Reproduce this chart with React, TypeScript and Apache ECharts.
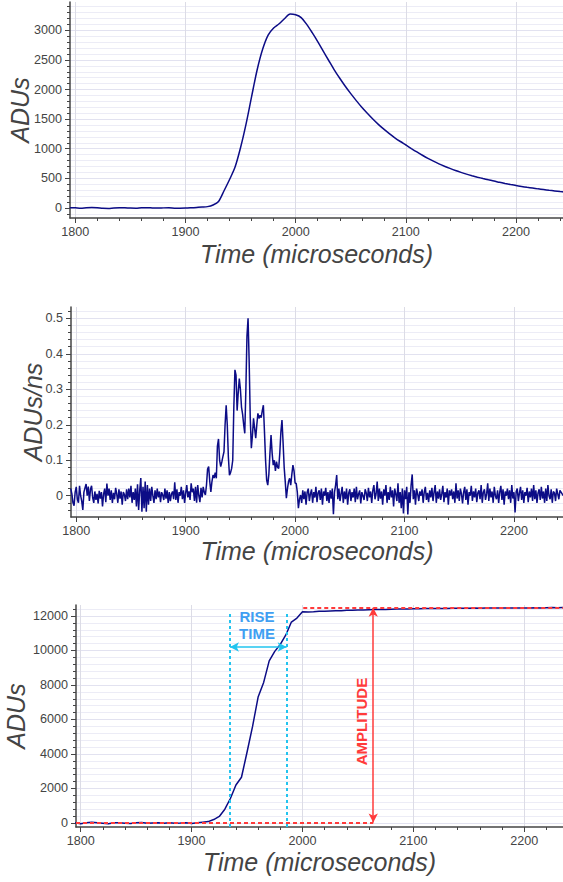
import React, { useEffect, useRef } from "react";
import * as echarts from "echarts";

// ---------------- DATA ----------------
// Top panel: ADUs vs time, sampled every 5 µs starting at 1795 µs
const PULSE_T0 = 1795;
const PULSE_DT = 5;
const pulseValues = [
  5, 2, -4, 3, 6, 2, -6, -8, 0, 4,
  2, -3, -5, 2, 3, 0, -2, 1, 2, -4,
  -5, -3, 2, 8, 14, 22, 50, 110, 290, 480,
  690, 1020, 1420, 1880, 2330, 2680, 2920, 3040, 3110, 3200,
  3275, 3262, 3215, 3100, 2960, 2810, 2650, 2490, 2332, 2190,
  2055, 1930, 1812, 1700, 1598, 1502, 1412, 1330, 1255, 1185,
  1122, 1063, 1003, 945, 890, 838, 790, 745, 705, 668,
  633, 601, 571, 544, 519, 496, 475, 455, 432, 412,
  394, 377, 362, 348, 335, 322, 310, 298, 287, 276,
  266,
];

// Middle panel: derivative ADUs/ns, sampled every 1 µs starting at 1795 µs
const DERIV_T0 = 1795;
const DERIV_DT = 1;
const derivValues = [
  0.02, 0.005, -0.02, -0.028, 0.01, 0.025, -0.01, -0.02, 0.028, 0.0,
  -0.015, -0.04, 0.01, 0.022, 0.033, 0.0, 0.026, -0.015, 0.018, 0.028,
  -0.005, -0.02, 0.012, -0.012, 0.005, -0.022, 0.014, -0.008, 0.01, -0.03,
  0.005, 0.02, -0.018, 0.034, 0.0, 0.02, -0.012, 0.015, -0.02, 0.008,
  -0.01, 0.022, 0.005, -0.02, 0.018, -0.008, 0.012, -0.025, 0.01, 0.003,
  -0.015, 0.018, -0.01, 0.02, -0.005, 0.028, -0.02, 0.01, -0.012, 0.02,
  -0.03, 0.032, -0.04, 0.015, 0.05, -0.045, 0.025, -0.035, 0.04, -0.045,
  0.03, -0.025, 0.02, -0.015, 0.025, 0.0, -0.02, 0.015, -0.01, 0.02,
  -0.005, 0.012, -0.018, 0.01, 0.002, -0.012, 0.02, -0.008, 0.015, -0.02,
  0.01, -0.015, 0.005, 0.012, -0.01, 0.038, -0.012, 0.018, -0.02, 0.01,
  0.0, 0.025, -0.01, 0.015, -0.02, 0.008, 0.03, -0.005, 0.012, -0.012,
  0.035, 0.01, 0.02, -0.015, 0.025, -0.02, 0.03, 0.0, -0.018, 0.022,
  -0.005, 0.025, 0.01, 0.002, 0.03, 0.075, 0.082, 0.04, 0.011, 0.04,
  0.058, 0.05, 0.065, 0.049, 0.14, 0.16, 0.1, 0.082, 0.095, 0.11,
  0.124, 0.2, 0.255, 0.2, 0.11, 0.058, 0.065, 0.077, 0.1, 0.25,
  0.355, 0.34, 0.24, 0.29, 0.33, 0.3, 0.25, 0.23, 0.2, 0.176,
  0.3, 0.45, 0.5, 0.38, 0.22, 0.134, 0.17, 0.218, 0.19, 0.162,
  0.2, 0.232, 0.218, 0.227, 0.22, 0.24, 0.255, 0.18, 0.1, 0.044,
  0.03, 0.06, 0.12, 0.171, 0.12, 0.086, 0.1, 0.07, 0.096, 0.08,
  0.077, 0.12, 0.18, 0.213, 0.15, 0.08, 0.039, -0.007, 0.02, 0.04,
  0.049, 0.03, 0.06, 0.086, 0.07, 0.035, 0.035, 0.01, -0.035, -0.01,
  0.002, -0.02, 0.015, -0.01, 0.012, -0.025, 0.01, 0.02, -0.015, 0.005,
  0.018, -0.02, 0.01, -0.005, 0.025, -0.018, 0.008, 0.015, -0.012, 0.02,
  -0.025, 0.012, 0.0, 0.022, -0.015, 0.01, -0.02, 0.015, -0.008, 0.02,
  -0.052, 0.01, 0.03, 0.058, -0.01, 0.02, -0.015, 0.005, 0.025, -0.02,
  0.012, -0.01, 0.02, -0.025, 0.008, 0.018, -0.015, 0.01, -0.005, 0.02,
  -0.018, 0.025, -0.01, 0.005, 0.015, -0.022, 0.01, 0.0, -0.012, 0.018,
  0.008, -0.015, 0.022, -0.005, 0.012, -0.02, 0.015, 0.03, -0.01, 0.005,
  0.04, -0.015, 0.02, -0.008, 0.012, -0.025, 0.018, 0.0, 0.03, -0.02,
  0.01, -0.012, 0.025, -0.005, 0.015, -0.03, 0.02, 0.005, -0.015, 0.035,
  -0.02, 0.01, -0.035, 0.02, -0.05, 0.015, -0.01, 0.025, -0.053, 0.01,
  -0.02, 0.03, 0.06, -0.01, 0.015, -0.025, 0.02, 0.005, -0.015, 0.012,
  0.0, 0.018, -0.02, 0.01, 0.025, -0.012, 0.008, -0.018, 0.015, -0.005,
  0.022, -0.015, 0.01, 0.03, -0.02, 0.012, -0.008, 0.018, -0.012, 0.005,
  0.028, -0.018, 0.01, -0.005, 0.02, -0.025, 0.015, 0.0, 0.018, -0.01,
  0.012, -0.02, 0.035, -0.008, 0.015, -0.015, 0.02, 0.005, -0.022, 0.01,
  0.025, -0.012, 0.018, -0.025, 0.01, 0.0, 0.028, -0.015, 0.012, -0.005,
  0.02, -0.018, 0.008, 0.015, -0.01, 0.03, -0.02, 0.01, 0.018, -0.012,
  0.005, 0.035, -0.015, 0.02, -0.005, 0.012, -0.02, 0.025, 0.0, -0.01,
  0.015, -0.02, 0.01, 0.028, -0.012, 0.018, -0.025, 0.012, 0.0, 0.02,
  -0.01, 0.015, -0.02, 0.03, -0.008, 0.01, -0.047, 0.012, 0.02, -0.015,
  0.008, 0.025, -0.012, 0.015, -0.02, 0.01, 0.0, 0.022, -0.018, 0.012,
  -0.005, 0.02, -0.015, 0.03, -0.01, 0.015, -0.02, 0.008, 0.018, -0.012,
  0.025, -0.008, 0.012, -0.02, 0.02, -0.015, 0.03, 0.0, -0.01, 0.018,
  -0.02, 0.012, 0.008, -0.015, 0.02, 0.005, -0.01, 0.015, 0.01, 0.005,
  0.0,
];

// Bottom panel: integrated ADUs, sampled every 5 µs starting at 1795 µs
const INTEG_T0 = 1795;
const INTEG_DT = 5;
const integValues = [
  10, -40, 20, 40, 10, -20, -50, 10, 20, -10,
  -30, 10, 25, -20, 0, 15, -10, 20, -15, -5,
  10, -35, 20, 50, 80, 200, 380, 800, 1420, 2200,
  2650, 4100, 5600, 7300, 8150, 9400, 9950, 10350, 10900, 11650,
  11880, 12250, 12230, 12240, 12270, 12280, 12290, 12300, 12310, 12330,
  12330, 12350, 12350, 12360, 12370, 12380, 12380, 12390, 12400, 12400,
  12410, 12420, 12420, 12430, 12430, 12440, 12440, 12440, 12450, 12450,
  12450, 12450, 12460, 12450, 12460, 12460, 12470, 12460, 12470, 12470,
  12460, 12470, 12470, 12480, 12470, 12480, 12490, 12480, 12490, 12490,
];

// Tick labels
const xTicks = [1800, 1900, 2000, 2100, 2200];
const topYTicks = [0, 500, 1000, 1500, 2000, 2500, 3000];
const midYTicks = [0, 0.1, 0.2, 0.3, 0.4, 0.5];
const botYTicks = [0, 2000, 4000, 6000, 8000, 10000, 12000];

// Annotation values (data space) for the bottom panel
const riseStart = 1934.6;
const riseEnd = 1985.7;
const riseArrowLevel = 10200;
const riseLineTop = 12190;
const riseLabelAt = [1959, 11450];
const ampX = 2063.8;
const ampBase = 30;
const ampTop = 12480;
const ampTopLineStart = 2000.7;
const ampLabelAt = [2053.4, 5880];

const X_TITLE = "Time (microseconds)";

// ---------------- STYLE ----------------
const FONT = "'Liberation Sans', Arial, sans-serif";
const LINE_COLOR = "#0c0c86";
const AXIS_COLOR = "#444";
const LABEL_COLOR = "#444";
const V_GRID = "#dcdce6";
const H_GRID_MAJOR = "#e2e2f0";
const H_GRID_MINOR = "#ececf6";
const CYAN = "#22c4ef";
const BLUE_TEXT = "#3f9ff2";
const RED = "#ff3b3b";

function steps(a: number, b: number, step: number, skip: number[]): number[] {
  const out: number[] = [];
  const n = Math.round((b - a) / step);
  for (let i = 0; i <= n; i++) {
    const v = Math.round((a + i * step) * 1e6) / 1e6;
    if (!skip.some((s) => Math.abs(s - v) < 1e-9)) out.push(v);
  }
  return out;
}

function pairs(t0: number, dt: number, vals: number[]) {
  return vals.map((v, i) => [t0 + i * dt, v]);
}

const plain = (v: number) => String(v);

function xAxes(g: number, min: number, max: number, nameGap: number) {
  return [
    {
      type: "value",
      gridIndex: g,
      min,
      max,
      position: "bottom",
      axisLine: { show: true, onZero: false, lineStyle: { color: AXIS_COLOR, width: 1.5 } },
      axisTick: { show: true, inside: false, length: 5, customValues: xTicks, lineStyle: { color: AXIS_COLOR, width: 1 } },
      axisLabel: { show: true, customValues: xTicks, formatter: plain, margin: 7, fontSize: 12.6, color: LABEL_COLOR, fontFamily: FONT },
      splitLine: { show: true, lineStyle: { color: V_GRID, width: 1 } },
      minorTick: { show: false },
      minorSplitLine: { show: false },
      name: X_TITLE,
      nameLocation: "middle",
      nameGap,
      nameMoveOverlap: false,
      nameTextStyle: { fontSize: 25, fontStyle: "italic", color: AXIS_COLOR, fontFamily: FONT },
    },
    {
      type: "value",
      gridIndex: g,
      min,
      max,
      position: "bottom",
      axisLine: { show: false, onZero: false },
      axisTick: { show: true, inside: false, length: 3, customValues: steps(1780, 2260, 20, xTicks), lineStyle: { color: AXIS_COLOR, width: 1 } },
      axisLabel: { show: false },
      splitLine: { show: false },
    },
  ];
}

function yAxes(g: number, min: number, max: number, major: number[], minor: number[], name: string, nameGap: number) {
  return [
    {
      type: "value",
      gridIndex: g,
      min,
      max,
      position: "left",
      axisLine: { show: true, onZero: false, lineStyle: { color: AXIS_COLOR, width: 1.5 } },
      axisTick: { show: true, inside: false, length: 5, customValues: major, lineStyle: { color: AXIS_COLOR, width: 1 } },
      axisLabel: { show: true, customValues: major, formatter: plain, margin: 8, fontSize: 12.6, color: LABEL_COLOR, fontFamily: FONT },
      splitLine: { show: true, lineStyle: { color: H_GRID_MAJOR, width: 1 } },
      minorTick: { show: false },
      minorSplitLine: { show: false },
      name,
      nameLocation: "middle",
      nameGap,
      nameMoveOverlap: false,
      nameTextStyle: { fontSize: 25, fontStyle: "italic", color: AXIS_COLOR, fontFamily: FONT },
    },
    {
      type: "value",
      gridIndex: g,
      min,
      max,
      position: "left",
      axisLine: { show: false, onZero: false },
      axisTick: { show: true, inside: false, length: 3, customValues: minor, lineStyle: { color: AXIS_COLOR, width: 1 } },
      axisLabel: { show: false },
      splitLine: { show: true, lineStyle: { color: H_GRID_MINOR, width: 1 } },
    },
  ];
}

export default function App() {
  const ref = useRef<HTMLDivElement>(null);

  useEffect(() => {
    document.body.style.margin = "0";
    if (!ref.current) return;
    const chart = echarts.init(ref.current, null, { renderer: "svg" });

    const lineBase = {
      type: "line",
      showSymbol: false,
      symbol: "none",
      clip: true,
      animation: false,
    };

    const cyanLine = (type: any, width: number) => ({ color: CYAN, type, width });
    const redLine = (type: any, width: number) => ({ color: RED, type, width });

    const option: any = {
      animation: false,
      backgroundColor: "#fff",
      grid: [
        { left: 70, top: 2, right: 0, height: 216, outerBoundsMode: "none", containLabel: false },
        { left: 71, top: 307, right: 0, height: 210, outerBoundsMode: "none", containLabel: false },
        { left: 76, top: 605, right: 0, height: 222, outerBoundsMode: "none", containLabel: false },
      ],
      xAxis: [
        ...xAxes(0, 1795.2, 2242.6, 23.5),
        ...xAxes(1, 1795.2, 2244.8, 21.5),
        ...xAxes(2, 1795.8, 2234.9, 22.5),
      ],
      yAxis: [
        ...yAxes(0, -170, 3478, topYTicks, steps(-100, 3400, 100, topYTicks), "ADUs", 38),
        ...yAxes(1, -0.06, 0.532, midYTicks, steps(-0.04, 0.52, 0.02, midYTicks), "ADUs/ns", 25.5),
        ...yAxes(2, -232, 12637, botYTicks, steps(0, 12400, 400, botYTicks), "ADUs", 47.5),
      ],
      series: [
        {
          ...lineBase,
          xAxisIndex: 0,
          yAxisIndex: 0,
          smooth: 0.3,
          data: pairs(PULSE_T0, PULSE_DT, pulseValues),
          lineStyle: { color: LINE_COLOR, width: 1.5 },
        },
        {
          ...lineBase,
          xAxisIndex: 2,
          yAxisIndex: 2,
          data: pairs(DERIV_T0, DERIV_DT, derivValues),
          lineStyle: { color: LINE_COLOR, width: 1.5 },
        },
        {
          ...lineBase,
          xAxisIndex: 4,
          yAxisIndex: 4,
          data: pairs(INTEG_T0, INTEG_DT, integValues),
          lineStyle: { color: LINE_COLOR, width: 1.5 },
          markLine: {
            silent: true,
            animation: false,
            symbolSize: [7, 9],
            label: { show: false },
            data: [
              [
                { coord: [riseStart, -232], symbol: "none", lineStyle: cyanLine([3, 3], 2) },
                { coord: [riseStart, riseLineTop], symbol: "none", lineStyle: cyanLine([3, 3], 2) },
              ],
              [
                { coord: [riseEnd, -232], symbol: "none", lineStyle: cyanLine([3, 3], 2) },
                { coord: [riseEnd, riseLineTop], symbol: "none", lineStyle: cyanLine([3, 3], 2) },
              ],
              [
                { coord: [riseStart, riseArrowLevel], symbol: "arrow", lineStyle: cyanLine("solid", 1.5) },
                { coord: [riseEnd, riseArrowLevel], symbol: "arrow", lineStyle: cyanLine("solid", 1.5) },
              ],
              [
                { coord: [1795.8, ampBase], symbol: "none", lineStyle: redLine([4, 3], 2) },
                { coord: [ampX, ampBase], symbol: "none", lineStyle: redLine([4, 3], 2) },
              ],
              [
                { coord: [ampTopLineStart, ampTop], symbol: "none", lineStyle: redLine([4, 3], 2) },
                { coord: [2234.9, ampTop], symbol: "none", lineStyle: redLine([4, 3], 2) },
              ],
              [
                { coord: [ampX, ampBase], symbol: "arrow", lineStyle: redLine("solid", 1.5) },
                { coord: [ampX, ampTop], symbol: "arrow", lineStyle: redLine("solid", 1.5) },
              ],
            ],
          },
          markPoint: {
            silent: true,
            animation: false,
            symbol: "circle",
            symbolSize: 0,
            data: [
              {
                coord: riseLabelAt,
                label: {
                  show: true,
                  position: "inside",
                  formatter: "RISE\nTIME",
                  color: BLUE_TEXT,
                  fontSize: 15,
                  lineHeight: 17,
                  fontWeight: "bold",
                  fontFamily: FONT,
                  align: "center",
                },
              },
              {
                coord: ampLabelAt,
                label: {
                  show: true,
                  position: "inside",
                  formatter: "AMPLITUDE",
                  rotate: 90,
                  color: RED,
                  fontSize: 15,
                  fontWeight: "bold",
                  fontFamily: FONT,
                },
              },
            ],
          },
        },
      ],
    };

    chart.setOption(option);
    return () => chart.dispose();
  }, []);

  return <div ref={ref} style={{ width: 563, height: 882 }} />;
}
